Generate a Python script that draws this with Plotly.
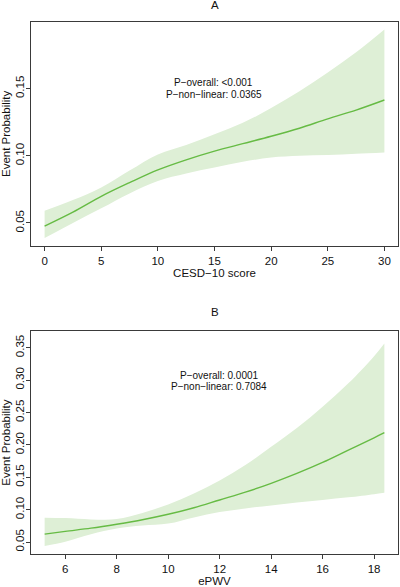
import plotly.graph_objects as go

# Panel A: CESD-10 score
a_x = [0, 2.5, 5, 7.5, 10, 12.5, 15, 17.5, 20, 22.5, 25, 27.5, 30]
a_fit = [0.0476, 0.058, 0.0698, 0.080, 0.0895, 0.097, 0.1035, 0.109, 0.1145, 0.1205, 0.1275, 0.134, 0.1415]
a_upper = [0.059, 0.067, 0.0764, 0.089, 0.101, 0.108, 0.116, 0.1245, 0.1355, 0.148, 0.162, 0.177, 0.1940]
a_lower = [0.0387, 0.050, 0.0609, 0.072, 0.0813, 0.0868, 0.0912, 0.0955, 0.0987, 0.100, 0.1006, 0.1015, 0.1024]

# Panel B: ePWV
b_x = [5.2, 6, 7, 8, 9, 10, 11, 12, 13, 14, 15, 16, 17, 18, 18.4]
b_fit = [0.0622, 0.0665, 0.0715, 0.0776, 0.0845, 0.0929, 0.103, 0.115, 0.127, 0.1407, 0.156, 0.173, 0.192, 0.211, 0.2188]
b_upper = [0.0877, 0.087, 0.085, 0.0855, 0.095, 0.108, 0.125, 0.145, 0.169, 0.197, 0.226, 0.259, 0.295, 0.337, 0.3566]
b_lower = [0.0439, 0.0505, 0.062, 0.0708, 0.0755, 0.0785, 0.088, 0.0964, 0.102, 0.1066, 0.111, 0.115, 0.119, 0.124, 0.126]

a_xticks = [0, 5, 10, 15, 20, 25, 30]
a_yticks = [0.05, 0.10, 0.15]
b_xticks = [6, 8, 10, 12, 14, 16, 18]
b_yticks = [0.05, 0.10, 0.15, 0.20, 0.25, 0.30, 0.35]

LINE = "#66BB44"
FILL = "#DEEFD6"
AX = "#3a3a3a"
FONT = "Liberation Sans, Arial, sans-serif"

fig = go.Figure()

def add_panel(x, fit, up, lo, xa, ya):
    fig.add_trace(go.Scatter(x=x, y=lo, mode="lines", line=dict(width=0, shape="spline"),
                             hoverinfo="skip", showlegend=False, xaxis=xa, yaxis=ya))
    fig.add_trace(go.Scatter(x=x, y=up, mode="lines", fill="tonexty", fillcolor=FILL,
                             line=dict(width=0, shape="spline"),
                             hoverinfo="skip", showlegend=False, xaxis=xa, yaxis=ya))
    fig.add_trace(go.Scatter(x=x, y=fit, mode="lines",
                             line=dict(color=LINE, width=1.4, shape="spline"),
                             showlegend=False, xaxis=xa, yaxis=ya))

add_panel(a_x, a_fit, a_upper, a_lower, "x", "y")
add_panel(b_x, b_fit, b_upper, b_lower, "x2", "y2")

axis_common = dict(showline=True, linecolor=AX, linewidth=1, mirror=True,
                   ticks="outside", ticklen=4, tickcolor=AX, tickwidth=1,
                   showgrid=False, zeroline=False,
                   tickfont=dict(family=FONT, size=11.5, color="#111"))

fig.update_layout(
    width=400, height=587,
    margin=dict(l=31, r=1, t=22, b=30),
    plot_bgcolor="white", paper_bgcolor="white",
    font=dict(family=FONT, size=11.5, color="#111"),
    xaxis=dict(domain=[0, 1], anchor="y", range=[-1.2, 31.2], tickvals=a_xticks,
               title=dict(text="CESD−10 score", standoff=3, font=dict(size=11.5)), **axis_common),
    yaxis=dict(domain=[0.5794, 1], anchor="x", range=[0.033, 0.1996], tickvals=a_yticks,
               tickformat=".2f", tickangle=-90, ticklabelstandoff=-3,
               title=dict(text="Event Probability", standoff=4, font=dict(size=11.5)), **axis_common),
    xaxis2=dict(domain=[0, 1], anchor="y2", range=[4.67, 18.93], tickvals=b_xticks,
                title=dict(text="ePWV", standoff=3, font=dict(size=11.5)), **axis_common),
    yaxis2=dict(domain=[0, 0.4187], anchor="x2", range=[0.0316, 0.3754], tickvals=b_yticks,
                tickformat=".2f", tickangle=-90, ticklabelstandoff=-3,
                title=dict(text="Event Probability", standoff=4, font=dict(size=11.5)), **axis_common),
)

ann_font = dict(family=FONT, size=10, color="#111")
anns = [
    dict(text="A", x=0.5, y=1.0318, font=dict(family=FONT, size=11.5, color="#111")),
    dict(text="B", x=0.5, y=0.4542, font=dict(family=FONT, size=11.5, color="#111")),
    dict(text="P−overall: <0.001", x=0.4973, y=(557 - 83) / 535, font=ann_font),
    dict(text="P−non−linear: 0.0365", x=0.4973, y=(557 - 95) / 535, font=ann_font),
    dict(text="P−overall: 0.0001", x=0.5136, y=(557 - 377.5) / 535, font=ann_font),
    dict(text="P−non−linear: 0.7084", x=0.5136, y=(557 - 389) / 535, font=ann_font),
]
for a in anns:
    fig.add_annotation(xref="paper", yref="paper", showarrow=False,
                       xanchor="center", yanchor="middle", **a)

fig.write_html("out.html")
